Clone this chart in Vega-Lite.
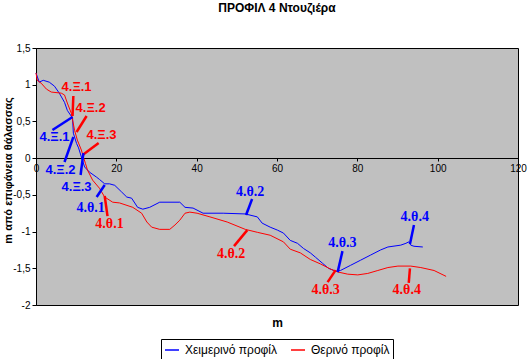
{
  "$schema": "https://vega.github.io/schema/vega-lite/v6.json",
  "width": 482,
  "height": 257,
  "autosize": {"type": "none"},
  "padding": {"left": 36, "top": 48, "right": 11, "bottom": 54},
  "background": "white",
  "title": {"text": "ΠΡΟΦΙΛ 4  Ντουζιέρα", "font": "Liberation Sans", "fontSize": 12, "fontWeight": "bold", "color": "black", "anchor": "middle", "offset": 28},
  "config": {
    "view": {"fill": "#C0C0C0", "stroke": "black", "strokeWidth": 1},
    "axis": {"labelFont": "Liberation Sans", "labelFontSize": 10, "labelColor": "black", "domainColor": "black", "tickColor": "black", "grid": false, "titleFont": "Liberation Sans", "titleColor": "black", "titleFontWeight": "bold", "labelOverlap": false, "labelFlush": false}
  },
  "datasets": {
    "profile": [
      {"s": "Χειμερινό προφίλ", "x": 0, "y": 1.16}, {"s": "Χειμερινό προφίλ", "x": 0.8, "y": 1.035}, {"s": "Χειμερινό προφίλ", "x": 1.8, "y": 1.06}, {"s": "Χειμερινό προφίλ", "x": 3.3, "y": 1.035}, {"s": "Χειμερινό προφίλ", "x": 4.6, "y": 0.98}, {"s": "Χειμερινό προφίλ", "x": 5.8, "y": 0.885}, {"s": "Χειμερινό προφίλ", "x": 7.1, "y": 0.76}, {"s": "Χειμερινό προφίλ", "x": 7.8, "y": 0.65}, {"s": "Χειμερινό προφίλ", "x": 9.1, "y": 0.545}, {"s": "Χειμερινό προφίλ", "x": 9.3, "y": 0.34}, {"s": "Χειμερινό προφίλ", "x": 10.1, "y": 0.2}, {"s": "Χειμερινό προφίλ", "x": 10.6, "y": 0.14}, {"s": "Χειμερινό προφίλ", "x": 11.3, "y": 0.015}, {"s": "Χειμερινό προφίλ", "x": 12.1, "y": -0.12}, {"s": "Χειμερινό προφίλ", "x": 13.3, "y": -0.19}, {"s": "Χειμερινό προφίλ", "x": 15.1, "y": -0.26}, {"s": "Χειμερινό προφίλ", "x": 15.8, "y": -0.29}, {"s": "Χειμερινό προφίλ", "x": 17.1, "y": -0.35}, {"s": "Χειμερινό προφίλ", "x": 18.3, "y": -0.35}, {"s": "Χειμερινό προφίλ", "x": 19.6, "y": -0.37}, {"s": "Χειμερινό προφίλ", "x": 21.3, "y": -0.46}, {"s": "Χειμερινό προφίλ", "x": 22.6, "y": -0.53}, {"s": "Χειμερινό προφίλ", "x": 23.8, "y": -0.545}, {"s": "Χειμερινό προφίλ", "x": 25.3, "y": -0.67}, {"s": "Χειμερινό προφίλ", "x": 26.6, "y": -0.695}, {"s": "Χειμερινό προφίλ", "x": 28.3, "y": -0.67}, {"s": "Χειμερινό προφίλ", "x": 30.8, "y": -0.6}, {"s": "Χειμερινό προφίλ", "x": 35.8, "y": -0.6}, {"s": "Χειμερινό προφίλ", "x": 37.1, "y": -0.67}, {"s": "Χειμερινό προφίλ", "x": 39.1, "y": -0.68}, {"s": "Χειμερινό προφίλ", "x": 41.6, "y": -0.75}, {"s": "Χειμερινό προφίλ", "x": 46.6, "y": -0.75}, {"s": "Χειμερινό προφίλ", "x": 52.1, "y": -0.76}, {"s": "Χειμερινό προφίλ", "x": 55.1, "y": -0.8}, {"s": "Χειμερινό προφίλ", "x": 56.3, "y": -0.885}, {"s": "Χειμερινό προφίλ", "x": 58.3, "y": -0.94}, {"s": "Χειμερινό προφίλ", "x": 60.1, "y": -0.98}, {"s": "Χειμερινό προφίλ", "x": 61.6, "y": -1.02}, {"s": "Χειμερινό προφίλ", "x": 63.3, "y": -1.12}, {"s": "Χειμερινό προφίλ", "x": 65.1, "y": -1.16}, {"s": "Χειμερινό προφίλ", "x": 66.6, "y": -1.23}, {"s": "Χειμερινό προφίλ", "x": 68.3, "y": -1.29}, {"s": "Χειμερινό προφίλ", "x": 69.6, "y": -1.35}, {"s": "Χειμερινό προφίλ", "x": 71.3, "y": -1.43}, {"s": "Χειμερινό προφίλ", "x": 72.8, "y": -1.5}, {"s": "Χειμερινό προφίλ", "x": 74.6, "y": -1.54}, {"s": "Χειμερινό προφίλ", "x": 75.8, "y": -1.53}, {"s": "Χειμερινό προφίλ", "x": 78.3, "y": -1.46}, {"s": "Χειμερινό προφίλ", "x": 80.8, "y": -1.39}, {"s": "Χειμερινό προφίλ", "x": 83.3, "y": -1.32}, {"s": "Χειμερινό προφίλ", "x": 85.8, "y": -1.25}, {"s": "Χειμερινό προφίλ", "x": 87.6, "y": -1.21}, {"s": "Χειμερινό προφίλ", "x": 90.8, "y": -1.185}, {"s": "Χειμερινό προφίλ", "x": 92.1, "y": -1.16}, {"s": "Χειμερινό προφίλ", "x": 92.8, "y": -1.14}, {"s": "Χειμερινό προφίλ", "x": 93.3, "y": -1.185}, {"s": "Χειμερινό προφίλ", "x": 94.1, "y": -1.2}, {"s": "Χειμερινό προφίλ", "x": 96.3, "y": -1.21},
      {"s": "Θερινό προφίλ", "x": 0, "y": 1.16}, {"s": "Θερινό προφίλ", "x": 0.3, "y": 1.06}, {"s": "Θερινό προφίλ", "x": 1.3, "y": 1.02}, {"s": "Θερινό προφίλ", "x": 2.6, "y": 0.94}, {"s": "Θερινό προφίλ", "x": 3.8, "y": 0.9}, {"s": "Θερινό προφίλ", "x": 6.3, "y": 0.885}, {"s": "Θερινό προφίλ", "x": 7.1, "y": 0.86}, {"s": "Θερινό προφίλ", "x": 7.8, "y": 0.75}, {"s": "Θερινό προφίλ", "x": 8.8, "y": 0.61}, {"s": "Θερινό προφίλ", "x": 9.6, "y": 0.38}, {"s": "Θερινό προφίλ", "x": 10.3, "y": 0.245}, {"s": "Θερινό προφίλ", "x": 11.3, "y": 0.11}, {"s": "Θερινό προφίλ", "x": 11.8, "y": 0.015}, {"s": "Θερινό προφίλ", "x": 12.3, "y": -0.07}, {"s": "Θερινό προφίλ", "x": 12.8, "y": -0.16}, {"s": "Θερινό προφίλ", "x": 14.1, "y": -0.3}, {"s": "Θερινό προφίλ", "x": 15.8, "y": -0.41}, {"s": "Θερινό προφίλ", "x": 17.1, "y": -0.53}, {"s": "Θερινό προφίλ", "x": 19.1, "y": -0.6}, {"s": "Θερινό προφίλ", "x": 20.8, "y": -0.61}, {"s": "Θερινό προφίλ", "x": 24.1, "y": -0.67}, {"s": "Θερινό προφίλ", "x": 26.3, "y": -0.75}, {"s": "Θερινό προφίλ", "x": 27.6, "y": -0.87}, {"s": "Θερινό προφίλ", "x": 28.8, "y": -0.94}, {"s": "Θερινό προφίλ", "x": 30.8, "y": -0.97}, {"s": "Θερινό προφίλ", "x": 33.3, "y": -0.97}, {"s": "Θερινό προφίλ", "x": 34.6, "y": -0.91}, {"s": "Θερινό προφίλ", "x": 35.8, "y": -0.845}, {"s": "Θερινό προφίλ", "x": 37.1, "y": -0.75}, {"s": "Θερινό προφίλ", "x": 38.3, "y": -0.735}, {"s": "Θερινό προφίλ", "x": 40.1, "y": -0.75}, {"s": "Θερινό προφίλ", "x": 43.3, "y": -0.8}, {"s": "Θερινό προφίλ", "x": 47.6, "y": -0.87}, {"s": "Θερινό προφίλ", "x": 52.1, "y": -0.97}, {"s": "Θερινό προφίλ", "x": 55.1, "y": -1.01}, {"s": "Θερινό προφίλ", "x": 58.3, "y": -1.05}, {"s": "Θερινό προφίλ", "x": 61.6, "y": -1.14}, {"s": "Θερινό προφίλ", "x": 63.3, "y": -1.24}, {"s": "Θερινό προφίλ", "x": 65.8, "y": -1.29}, {"s": "Θερινό προφίλ", "x": 68.3, "y": -1.38}, {"s": "Θερινό προφίλ", "x": 70.8, "y": -1.44}, {"s": "Θερινό προφίλ", "x": 73.3, "y": -1.51}, {"s": "Θερινό προφίλ", "x": 75.1, "y": -1.55}, {"s": "Θερινό προφίλ", "x": 77.6, "y": -1.58}, {"s": "Θερινό προφίλ", "x": 80.1, "y": -1.59}, {"s": "Θερινό προφίλ", "x": 82.6, "y": -1.57}, {"s": "Θερινό προφίλ", "x": 85.1, "y": -1.53}, {"s": "Θερινό προφίλ", "x": 87.6, "y": -1.49}, {"s": "Θερινό προφίλ", "x": 90.1, "y": -1.47}, {"s": "Θερινό προφίλ", "x": 93.3, "y": -1.47}, {"s": "Θερινό προφίλ", "x": 95.8, "y": -1.49}, {"s": "Θερινό προφίλ", "x": 99.1, "y": -1.53}, {"s": "Θερινό προφίλ", "x": 102.1, "y": -1.61}
    ],
    "labels": [
      {"s": "Θερινό προφίλ", "kind": "Ξ", "label": "4.Ξ.1", "tx": 10.1, "ty": 0.97, "x1": 9.3, "y1": 0.846, "x2": 9.1, "y2": 0.574},
      {"s": "Θερινό προφίλ", "kind": "Ξ", "label": "4.Ξ.2", "tx": 13.6, "ty": 0.68, "x1": 12.6, "y1": 0.574, "x2": 10.1, "y2": 0.356},
      {"s": "Θερινό προφίλ", "kind": "Ξ", "label": "4.Ξ.3", "tx": 16.3, "ty": 0.31, "x1": 15.6, "y1": 0.206, "x2": 11.6, "y2": 0.042},
      {"s": "Θερινό προφίλ", "kind": "θ", "label": "4.θ.1", "tx": 18.3, "ty": -0.9, "x1": 17.8, "y1": -0.789, "x2": 17.1, "y2": -0.516},
      {"s": "Θερινό προφίλ", "kind": "θ", "label": "4.θ.2", "tx": 48.6, "ty": -1.31, "x1": 49.3, "y1": -1.198, "x2": 52.6, "y2": -0.98},
      {"s": "Θερινό προφίλ", "kind": "θ", "label": "4.θ.3", "tx": 72.1, "ty": -1.8, "x1": 72.6, "y1": -1.688, "x2": 74.6, "y2": -1.525},
      {"s": "Θερινό προφίλ", "kind": "θ", "label": "4.θ.4", "tx": 92.3, "ty": -1.8, "x1": 92.8, "y1": -1.7, "x2": 93.1, "y2": -1.5},
      {"s": "Χειμερινό προφίλ", "kind": "Ξ", "label": "4.Ξ.1", "tx": 4.6, "ty": 0.29, "x1": 4.1, "y1": 0.383, "x2": 9.1, "y2": 0.56},
      {"s": "Χειμερινό προφίλ", "kind": "Ξ", "label": "4.Ξ.2", "tx": 6.1, "ty": -0.16, "x1": 7.1, "y1": -0.053, "x2": 9.3, "y2": 0.288},
      {"s": "Χειμερινό προφίλ", "kind": "Ξ", "label": "4.Ξ.3", "tx": 10.1, "ty": -0.39, "x1": 11.1, "y1": -0.23, "x2": 11.8, "y2": 0.069},
      {"s": "Χειμερινό προφίλ", "kind": "θ", "label": "4.θ.1", "tx": 13.6, "ty": -0.68, "x1": 15.1, "y1": -0.53, "x2": 17.1, "y2": -0.366},
      {"s": "Χειμερινό προφίλ", "kind": "θ", "label": "4.θ.2", "tx": 53.3, "ty": -0.46, "x1": 53.8, "y1": -0.557, "x2": 52.3, "y2": -0.775},
      {"s": "Χειμερινό προφίλ", "kind": "θ", "label": "4.θ.3", "tx": 76.3, "ty": -1.16, "x1": 76.3, "y1": -1.266, "x2": 75.1, "y2": -1.552},
      {"s": "Χειμερινό προφίλ", "kind": "θ", "label": "4.θ.4", "tx": 94.3, "ty": -0.8, "x1": 94.1, "y1": -0.91, "x2": 93.1, "y2": -1.169}
    ]
  },
  "layer": [
    {
      "data": {"name": "profile"},
      "mark": {"type": "line", "strokeWidth": 1, "interpolate": "linear"},
      "encoding": {
        "x": {"field": "x", "type": "quantitative", "scale": {"domain": [0, 120], "nice": false}, "axis": {"values": [0, 20, 40, 60, 80, 100, 120], "offset": -147, "tickSize": 3, "labelPadding": 2, "title": "m", "titleFontSize": 12, "titleY": 164, "titleBaseline": "middle"}},
        "y": {"field": "y", "type": "quantitative", "scale": {"domain": [-2, 1.5], "nice": false, "zero": false}, "axis": {"values": [-2, -1.5, -1, -0.5, 0, 0.5, 1, 1.5], "tickCount": 8, "format": ".1~f", "labelOverlap": false, "labelBound": false, "tickSize": 4, "labelPadding": 2, "labelExpr": "replace(replace(datum.label, '.', ','), '−', '-')", "title": "m από επιφάνεια θάλασσας", "titleFontSize": 11, "titleAngle": -90, "titleX": -28, "titleY": 122, "titleBaseline": "middle", "titleAlign": "center"}},
        "color": {"field": "s", "type": "nominal", "scale": {"domain": ["Χειμερινό προφίλ", "Θερινό προφίλ"], "range": ["#0000FF", "#FF0000"]}, "legend": {"title": null, "orient": "none", "legendX": 125, "legendY": 291, "direction": "horizontal", "strokeColor": "black", "fillColor": "white", "padding": 3, "labelFont": "Liberation Sans", "labelFontSize": 12, "labelColor": "black", "symbolType": "stroke", "symbolSize": 196, "symbolStrokeWidth": 1.5, "labelOffset": 5, "columnPadding": 10}}
      }
    },
    {
      "data": {"name": "labels"},
      "mark": {"type": "rule", "strokeWidth": 2.5},
      "encoding": {
        "x": {"field": "x1", "type": "quantitative"},
        "y": {"field": "y1", "type": "quantitative"},
        "x2": {"field": "x2"},
        "y2": {"field": "y2"},
        "color": {"field": "s", "type": "nominal", "legend": null}
      }
    },
    {
      "data": {"name": "labels"},
      "transform": [{"filter": "datum.kind === 'Ξ'"}],
      "mark": {"type": "text", "font": "Liberation Sans", "fontSize": 13, "fontWeight": "bold", "align": "center", "baseline": "middle"},
      "encoding": {
        "x": {"field": "tx", "type": "quantitative"},
        "y": {"field": "ty", "type": "quantitative"},
        "text": {"field": "label"},
        "color": {"field": "s", "type": "nominal", "legend": null}
      }
    },
    {
      "data": {"name": "labels"},
      "transform": [{"filter": "datum.kind === 'θ'"}],
      "mark": {"type": "text", "font": "Liberation Serif", "fontSize": 14, "fontWeight": "bold", "align": "center", "baseline": "middle"},
      "encoding": {
        "x": {"field": "tx", "type": "quantitative"},
        "y": {"field": "ty", "type": "quantitative"},
        "text": {"field": "label"},
        "color": {"field": "s", "type": "nominal", "legend": null}
      }
    }
  ]
}
